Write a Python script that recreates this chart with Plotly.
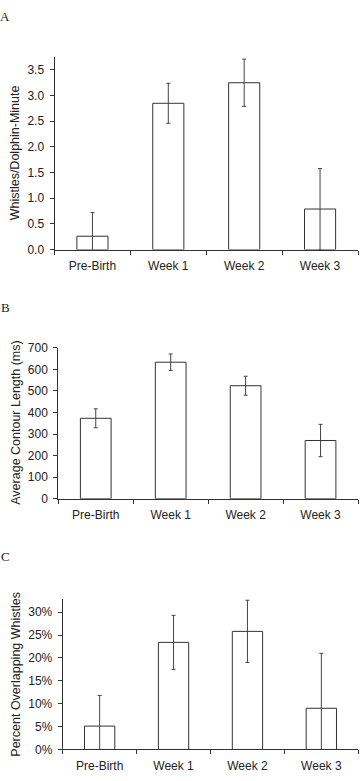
import plotly.graph_objects as go

W, H = 360, 781

categories = ["Pre-Birth", "Week 1", "Week 2", "Week 3"]

# Panel A: whistles per dolphin-minute
whistle_rate = [0.26, 2.85, 3.25, 0.79]
whistle_rate_err = [0.46, 0.39, 0.46, 0.79]

# Panel B: average contour length (ms)
contour_len = [373, 633, 524, 270]
contour_len_err = [44, 38, 44, 75]

# Panel C: percent overlapping whistles
overlap_pct = [5.1, 23.4, 25.8, 9.0]
overlap_pct_err = [6.7, 5.9, 6.8, 12.0]

TXT = "#222222"
LINE = "#333333"
FONT = "Liberation Sans, Arial, sans-serif"

def px_x(x):
    return x / W

def px_y(y):
    return 1 - y / H

panels = [
    dict(vals=whistle_rate, err=whistle_rate_err, x0=54.5, x1=358, y0=51, y1=247,
         yrange=[0, 3.75], dtick=0.5, fmt=".1f", suffix="",
         title="Whistles/Dolphin-Minute", tx=15, label="A", lx=5, ly=10),
    dict(vals=contour_len, err=contour_len_err, x0=58.3, x1=358, y0=347, y1=500.7,
         yrange=[0, 700], dtick=100, fmt="d", suffix="",
         title="Average Contour Length (ms)", tx=16.5, label="B", lx=5, ly=306),
    dict(vals=overlap_pct, err=overlap_pct_err, x0=62.7, x1=358.3, y0=602.7, y1=756,
         yrange=[0, 32.9], dtick=5, fmt="d", suffix="%",
         title="Percent Overlapping Whistles", tx=16.5, label="C", lx=5, ly=560),
]

fig = go.Figure()
annotations = []
layout = {}
for i, p in enumerate(panels, start=1):
    xa = "x" if i == 1 else f"x{i}"
    ya = "y" if i == 1 else f"y{i}"
    fig.add_trace(go.Bar(
        x=categories, y=p["vals"], xaxis=xa, yaxis=ya,
        width=0.41,
        marker=dict(color="white", line=dict(color=LINE, width=1)),
        error_y=dict(type="data", array=p["err"], symmetric=True,
                     color="#444444", thickness=1, width=2),
        showlegend=False, hoverinfo="skip",
    ))
    layout[f"xaxis{'' if i == 1 else i}"] = dict(
        domain=[px_x(p["x0"]), px_x(p["x1"])],
        anchor=ya, type="category", range=[-0.5, 3.5],
        showline=True, linecolor=LINE, linewidth=1,
        ticks="outside", tickson="boundaries", ticklen=4, tickcolor=LINE,
        ticklabelstandoff=5,
        showgrid=False, zeroline=False,
        tickfont=dict(family=FONT, size=12, color=TXT),
    )
    layout[f"yaxis{'' if i == 1 else i}"] = dict(
        domain=[px_y(p["y1"]), px_y(p["y0"])],
        anchor=xa, range=p["yrange"], dtick=p["dtick"], tick0=0,
        tickformat=p["fmt"], ticksuffix=p["suffix"],
        showline=True, linecolor=LINE, linewidth=1,
        ticks="outside", ticklen=4, tickcolor=LINE,
        ticklabelstandoff=3,
        showgrid=False, zeroline=False,
        tickfont=dict(family=FONT, size=12, color=TXT),
    )
    annotations.append(dict(
        text=p["title"], textangle=-90, xref="paper", yref="paper",
        x=px_x(p["tx"]), y=px_y((p["y0"] + p["y1"]) / 2),
        xanchor="center", yanchor="middle", showarrow=False,
        font=dict(family=FONT, size=12.5, color=TXT),
    ))
    annotations.append(dict(
        text=p["label"], xref="paper", yref="paper",
        x=px_x(p["lx"]), y=px_y(p["ly"]),
        xanchor="center", yanchor="middle", showarrow=False,
        font=dict(family="Liberation Serif, Times New Roman, serif", size=13, color=TXT),
    ))

fig.update_layout(
    width=W, height=H,
    margin=dict(l=0, r=0, t=0, b=0),
    paper_bgcolor="white", plot_bgcolor="white",
    annotations=annotations,
    **layout,
)

fig.write_html(
    "out.html",
    config={"displayModeBar": False, "staticPlot": True},
    post_script="document.body.style.margin='0';document.body.style.overflow='hidden';",
)
